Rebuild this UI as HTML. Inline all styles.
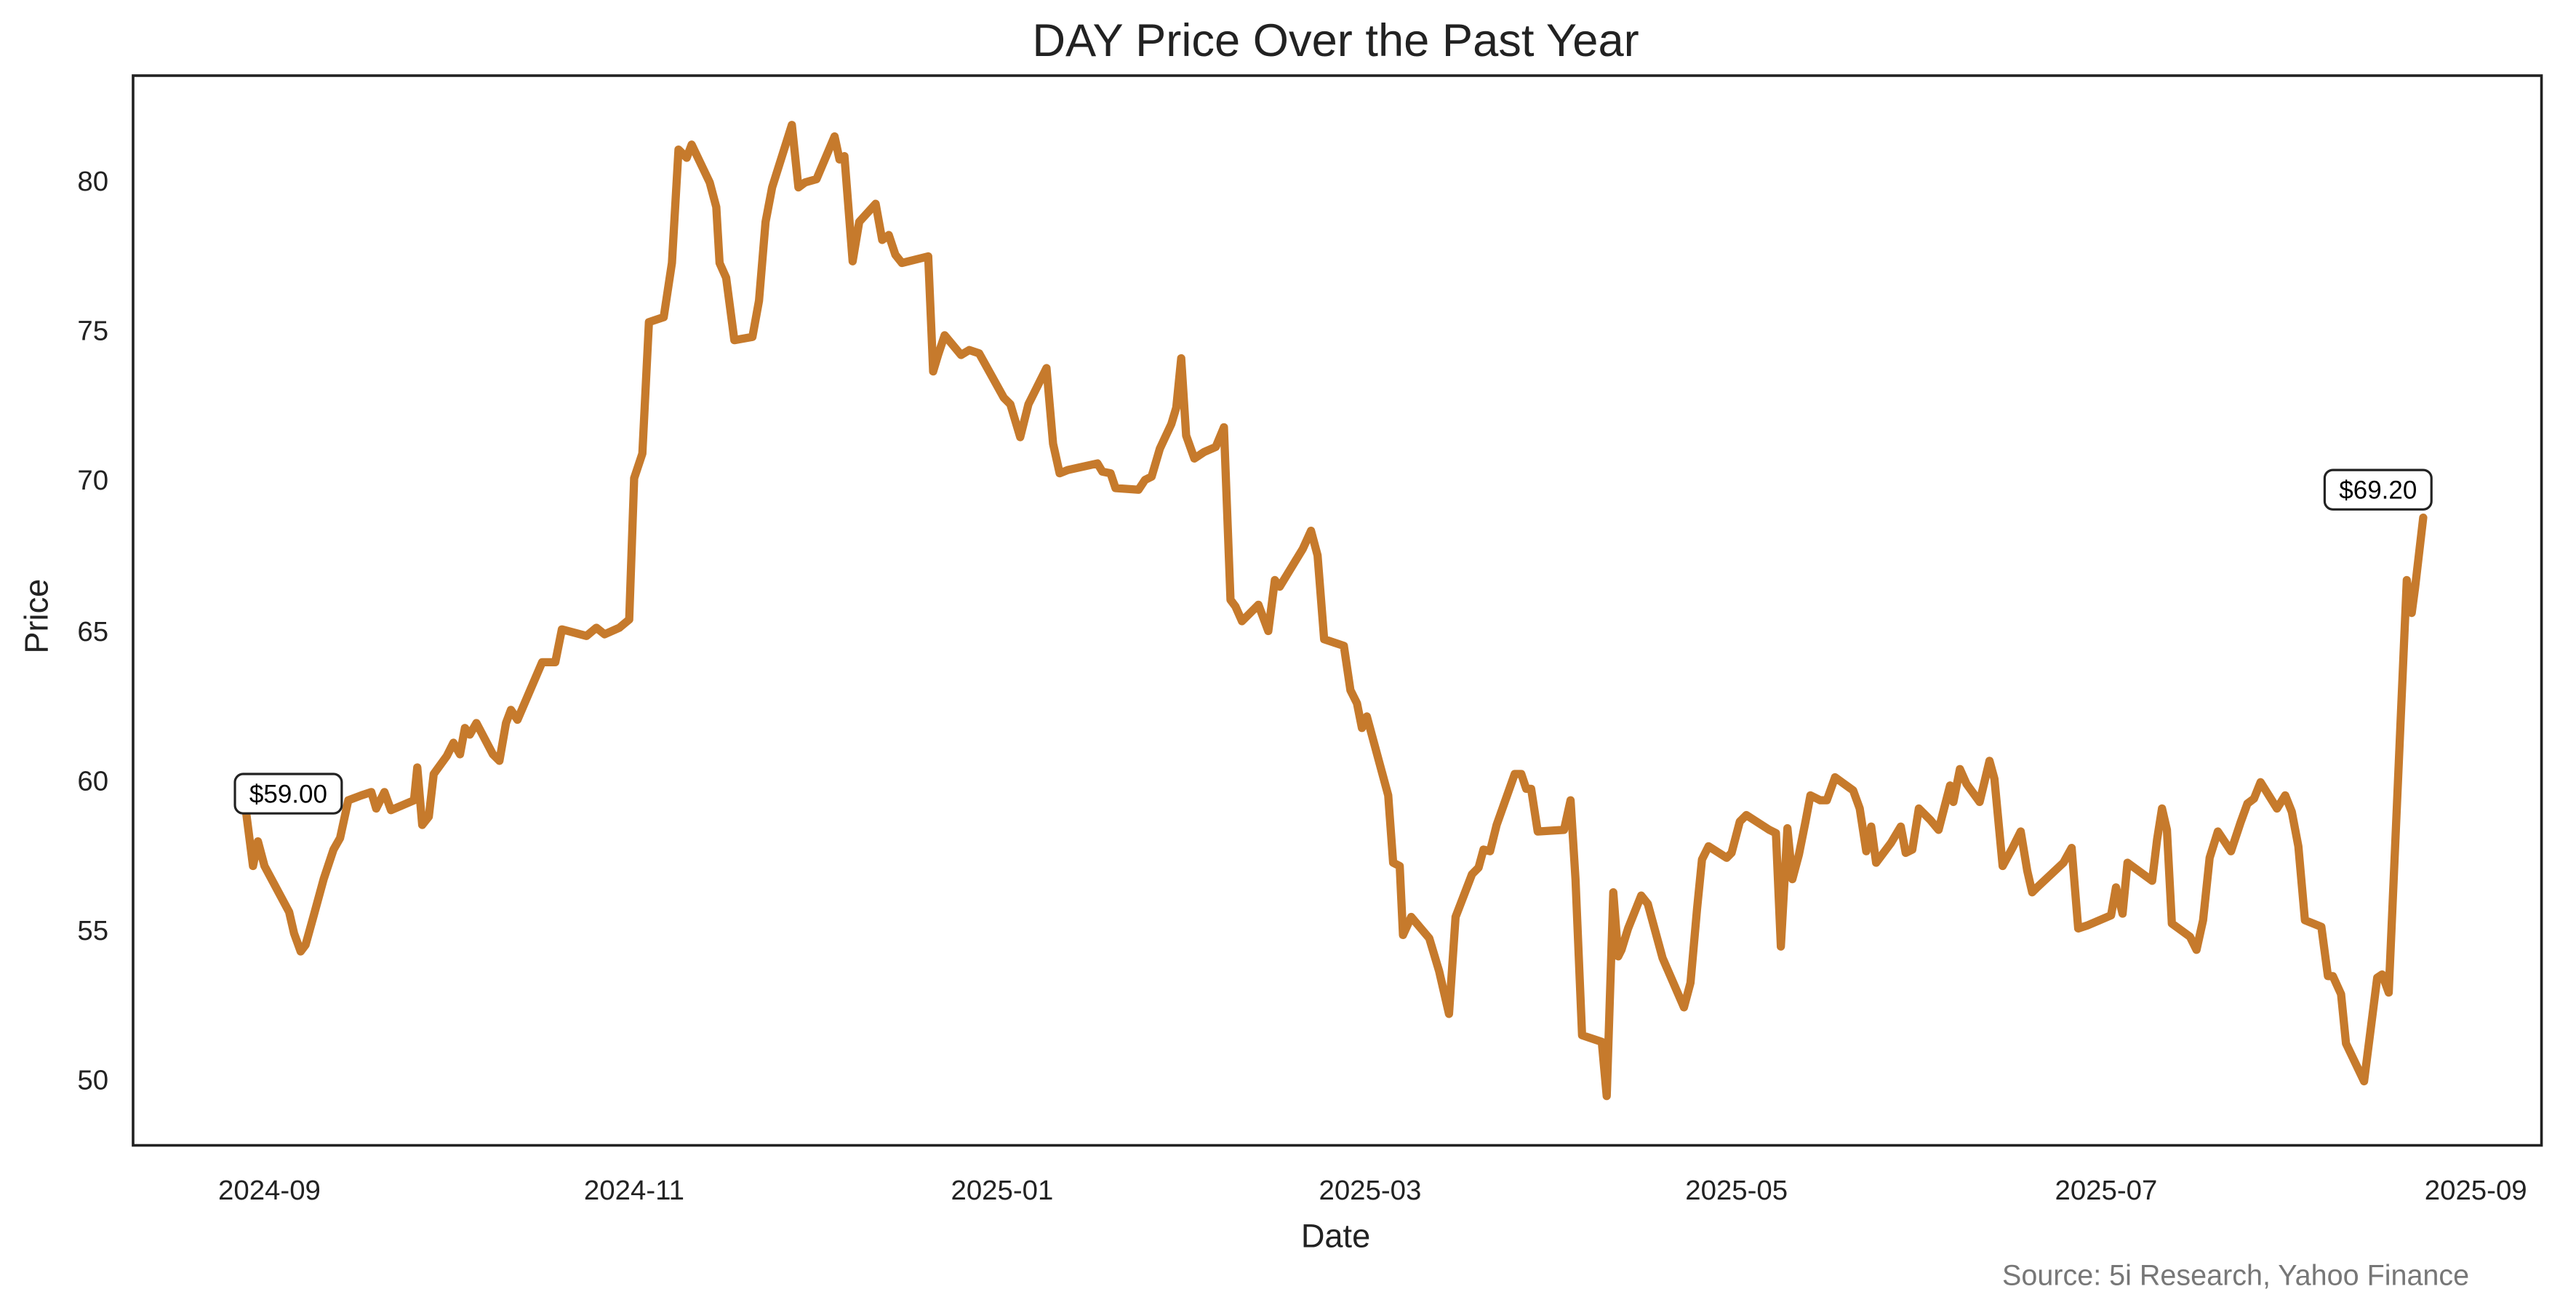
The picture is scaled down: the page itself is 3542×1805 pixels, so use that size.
<!DOCTYPE html>
<html><head><meta charset="utf-8"><style>html,body{margin:0;padding:0;background:#fff}svg{display:block}</style></head><body>
<svg width="3542" height="1805" viewBox="0 0 1568 799" xmlns="http://www.w3.org/2000/svg" font-family="'Liberation Sans', sans-serif">
<rect width="1568" height="799" fill="#fff"/>
<text x="813" y="34" font-size="28" text-anchor="middle" fill="#222">DAY Price Over the Past Year</text>
<rect x="81" y="46" width="1466" height="651" fill="none" stroke="#222" stroke-width="1.6"/>
<g font-size="17" fill="#222" text-anchor="end">
<text x="66" y="116">80</text><text x="66" y="207">75</text><text x="66" y="298">70</text><text x="66" y="390">65</text><text x="66" y="481">60</text><text x="66" y="572">55</text><text x="66" y="663">50</text>
</g>
<g font-size="17" fill="#222" text-anchor="middle">
<text x="164" y="730">2024-09</text><text x="386" y="730">2024-11</text><text x="610" y="730">2025-01</text><text x="834" y="730">2025-03</text><text x="1057" y="730">2025-05</text><text x="1282" y="730">2025-07</text><text x="1507" y="730">2025-09</text>
</g>
<text x="813" y="759" font-size="20" text-anchor="middle" fill="#222">Date</text>
<text transform="translate(29,375) rotate(-90)" font-size="20" text-anchor="middle" fill="#222">Price</text>
<polyline fill="none" stroke="#c67a2c" stroke-width="5" stroke-linejoin="round" stroke-linecap="round" points="149,488 154,527 157,512 161,527 176,555 179,568 183,579 186,575 191,557 197,535 203,517 207,510 212,487 220,484 226,482 229,492 234,482 238,493 252,487 254,467 257,502 261,497 264,471 272,460 276,452 280,459 283,443 286,447 290,440 300,459 304,463 308,440 311,432 315,438 330,403 338,403 342,383 357,387 363,382 368,386 377,382 383,377 386,291 391,276 395,196 404,193 409,160 413,91 418,96 421,88 432,111 436,126 438,160 442,169 447,207 458,205 462,183 466,135 470,114 482,76 486,114 490,111 497,109 508,83 511,97 514,95 519,159 523,135 533,124 537,146 541,143 545,155 549,160 565,156 568,226 571,216 575,204 585,216 590,213 596,215 611,242 615,246 621,266 626,246 637,224 641,270 645,288 650,286 668,282 671,287 676,288 679,297 693,298 697,292 701,290 706,273 713,258 716,248 719,218 722,265 727,279 733,275 740,272 745,260 749,365 752,369 756,378 766,368 772,384 776,353 779,357 793,334 798,323 802,338 806,389 818,393 822,420 826,428 829,443 832,436 845,484 848,525 852,527 854,569 859,558 870,571 876,591 882,617 886,558 896,532 900,528 903,517 907,518 911,502 922,471 926,471 929,480 932,480 936,506 952,505 956,487 959,535 963,630 972,633 975,634 978,667 982,543 985,582 987,578 991,565 999,545 1003,550 1012,583 1025,613 1029,598 1033,553 1036,523 1040,515 1051,522 1054,519 1059,500 1063,496 1077,505 1081,507 1084,576 1088,504 1091,535 1095,520 1099,500 1102,484 1108,487 1112,487 1117,473 1128,481 1132,492 1136,518 1139,503 1142,525 1151,513 1157,503 1160,519 1164,517 1168,492 1175,499 1180,505 1187,478 1189,488 1193,468 1197,477 1205,488 1211,463 1214,474 1219,527 1225,516 1230,506 1234,530 1237,543 1240,540 1256,525 1261,516 1265,565 1271,563 1285,557 1288,540 1292,556 1295,525 1310,536 1313,511 1316,492 1319,505 1322,562 1333,570 1337,578 1341,560 1345,522 1350,506 1358,518 1364,500 1368,489 1372,486 1376,476 1386,492 1391,484 1395,494 1399,515 1403,560 1413,564 1417,594 1420,594 1425,605 1428,635 1439,658 1447,595 1450,593 1454,604 1465,353 1468,373 1470,358 1475,315"/>
<rect x="143" y="471" width="65" height="24" rx="5" fill="#fff" stroke="#222" stroke-width="1.4"/>
<text x="175.5" y="488.5" font-size="15.5" text-anchor="middle" fill="#000">$59.00</text>
<rect x="1415" y="286" width="65" height="24" rx="5" fill="#fff" stroke="#222" stroke-width="1.4"/>
<text x="1447.5" y="303.5" font-size="15.5" text-anchor="middle" fill="#000">$69.20</text>
<text x="1503" y="782" font-size="17.5" text-anchor="end" fill="#777">Source: 5i Research, Yahoo Finance</text>
</svg>
</body></html>
